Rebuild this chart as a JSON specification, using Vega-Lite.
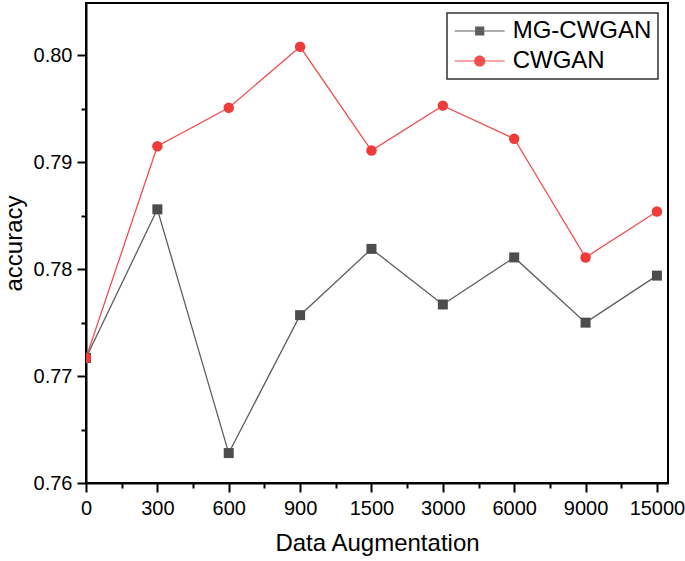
{
  "$schema": "https://vega.github.io/schema/vega-lite/v6.json",
  "width": 582,
  "height": 480,
  "autosize": {"type": "none"},
  "padding": {"left": 86, "top": 3, "right": 17, "bottom": 78},
  "background": "white",
  "config": {
    "font": "Liberation Sans",
    "view": {"stroke": "black", "strokeWidth": 2},
    "axis": {
      "domainColor": "black", "domainWidth": 2,
      "tickColor": "black", "tickWidth": 2,
      "labelColor": "black", "titleColor": "black",
      "labelFontSize": 20, "titleFontSize": 24, "titleFontWeight": "normal",
      "labelFont": "Liberation Sans", "titleFont": "Liberation Sans",
      "grid": false, "labelOverlap": false, "labelFlush": false
    },
    "legend": {
      "orient": "top-right", "offset": 10,
      "strokeColor": "#333333", "strokeWidth": 1.5,
      "padding": 6, "rowPadding": 6,
      "labelFontSize": 24, "labelFont": "Liberation Sans", "labelColor": "black",
      "symbolSize": 400, "symbolOffset": 14.7, "labelOffset": 21,
      "symbolStrokeWidth": 0
    }
  },
  "data": {
    "values": [
      {"aug": "0", "idx": 0, "series": "MG-CWGAN", "acc": 0.7717},
      {"aug": "300", "idx": 1, "series": "MG-CWGAN", "acc": 0.7856},
      {"aug": "600", "idx": 2, "series": "MG-CWGAN", "acc": 0.7628},
      {"aug": "900", "idx": 3, "series": "MG-CWGAN", "acc": 0.7757},
      {"aug": "1500", "idx": 4, "series": "MG-CWGAN", "acc": 0.7819},
      {"aug": "3000", "idx": 5, "series": "MG-CWGAN", "acc": 0.7767},
      {"aug": "6000", "idx": 6, "series": "MG-CWGAN", "acc": 0.7811},
      {"aug": "9000", "idx": 7, "series": "MG-CWGAN", "acc": 0.7750},
      {"aug": "15000", "idx": 8, "series": "MG-CWGAN", "acc": 0.7794},
      {"aug": "0", "idx": 0, "series": "CWGAN", "acc": 0.7717},
      {"aug": "300", "idx": 1, "series": "CWGAN", "acc": 0.7915},
      {"aug": "600", "idx": 2, "series": "CWGAN", "acc": 0.7951},
      {"aug": "900", "idx": 3, "series": "CWGAN", "acc": 0.8008},
      {"aug": "1500", "idx": 4, "series": "CWGAN", "acc": 0.7911},
      {"aug": "3000", "idx": 5, "series": "CWGAN", "acc": 0.7953},
      {"aug": "6000", "idx": 6, "series": "CWGAN", "acc": 0.7922},
      {"aug": "9000", "idx": 7, "series": "CWGAN", "acc": 0.7811},
      {"aug": "15000", "idx": 8, "series": "CWGAN", "acc": 0.7854}
    ]
  },
  "encoding": {
    "x": {
      "field": "idx", "type": "quantitative",
      "scale": {"domain": [0, 8.155], "nice": false, "zero": false},
      "axis": {
        "title": "Data Augmentation",
        "values": [0, 0.5, 1, 1.5, 2, 2.5, 3, 3.5, 4, 4.5, 5, 5.5, 6, 6.5, 7, 7.5, 8],
        "labelExpr": "datum.value % 1 === 0 ? ['0','300','600','900','1500','3000','6000','9000','15000'][datum.value] : ''",
        "tickSize": {"condition": {"test": "datum.value % 1 === 0", "value": 9}, "value": 5},
        "labelPadding": 6,
        "titlePadding": 13
      }
    },
    "y": {
      "field": "acc", "type": "quantitative",
      "scale": {"domain": [0.76, 0.8049], "nice": false, "zero": false},
      "axis": {
        "title": "accuracy",
        "values": [0.76, 0.765, 0.77, 0.775, 0.78, 0.785, 0.79, 0.795, 0.8],
        "labelExpr": "round(datum.value * 1000) % 10 === 0 ? format(datum.value, '.2f') : ''",
        "tickSize": {"condition": {"test": "round(datum.value * 1000) % 10 === 0", "value": 9}, "value": 5},
        "labelPadding": 5,
        "titlePadding": 7
      }
    },
    "color": {
      "field": "series", "type": "nominal",
      "scale": {"domain": ["MG-CWGAN", "CWGAN"], "range": ["#4d4d4d", "#f03b3b"]},
      "legend": {"title": null}
    }
  },
  "layer": [
    {"mark": {"type": "line", "strokeWidth": 1.3, "opacity": 0.9, "clip": true}},
    {
      "transform": [{"filter": "datum.series === 'MG-CWGAN'"}],
      "mark": {"type": "point", "shape": "square", "filled": true, "size": 100, "opacity": 1, "clip": true}
    },
    {
      "transform": [{"filter": "datum.series === 'CWGAN'"}],
      "mark": {"type": "point", "shape": "circle", "filled": true, "size": 110, "opacity": 1, "clip": true}
    },
    {
      "mark": {"type": "point", "filled": true, "opacity": 0, "size": 400, "clip": true},
      "encoding": {
        "shape": {
          "field": "series", "type": "nominal",
          "scale": {
            "domain": ["MG-CWGAN", "CWGAN"],
            "range": [
              "M-2.5,-0.06H2.5V0.06H-2.5Z M-0.46,-0.46H0.46V0.46H-0.46Z",
              "M-2.5,-0.06H2.5V0.06H-2.5Z M0.56,0A0.56,0.56 0 1,1 -0.56,0A0.56,0.56 0 1,1 0.56,0Z"
            ]
          },
          "legend": {
            "title": null,
            "encode": {"symbols": {"update": {"opacity": {"value": 1}}}}
          }
        }
      }
    }
  ]
}
